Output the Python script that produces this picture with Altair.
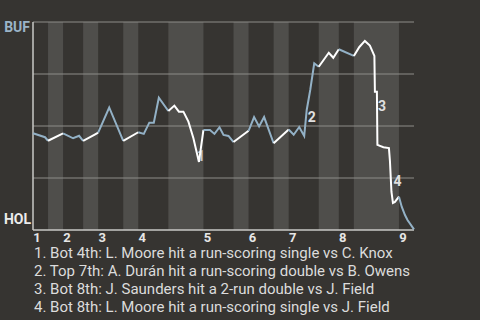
import altair as alt
import pandas as pd

# ---- data ----
half_starts = [0, 3, 6, 10, 13, 18, 21, 27, 34, 40, 43, 48, 51, 57, 61, 64, 73]
game_end = 76
inning_labels = ["1", "2", "3", "4", "5", "6", "7", "8", "9"]
inning_starts = [0, 6, 13, 21, 34, 43, 51, 61, 73]

event_x = [0, 2.4, 3, 6, 8, 9.2, 10, 12.4, 13, 15.2,
           18, 21, 22.1, 23.2, 24.1, 25.1, 27, 28.2, 29.1, 30,
           31, 32, 33.1, 34, 35.3, 36.2, 37.2, 38, 39, 40,
           43, 44.1, 45.1, 46.1, 48, 51, 52, 53.1, 54.1, 54.6,
           55.3, 56.1, 57, 59, 59.9, 61, 64, 65.1, 66.2, 67.2,
           68.1, 68.2, 68.6, 68.7, 69.9, 71, 71.2, 71.5, 71.8, 72.2,
           73, 73.55, 74.2, 74.7, 76]
win_prob = [0.465, 0.446, 0.429, 0.465, 0.441, 0.453, 0.429, 0.460, 0.468, 0.589,
            0.428, 0.470, 0.462, 0.516, 0.516, 0.636, 0.572, 0.598, 0.569, 0.569,
            0.521, 0.441, 0.327, 0.481, 0.481, 0.462, 0.494, 0.457, 0.452, 0.423,
            0.477, 0.543, 0.498, 0.543, 0.417, 0.483, 0.458, 0.495, 0.452, 0.577,
            0.673, 0.801, 0.785, 0.852, 0.828, 0.869, 0.837, 0.880, 0.909, 0.887,
            0.837, 0.665, 0.665, 0.409, 0.398, 0.394, 0.332, 0.184, 0.130, 0.135,
            0.160, 0.112, 0.072, 0.048, 0.003]

grid_values = [0.25, 0.5, 0.75, 1.0]

ann_labels = ["1", "2", "3", "4"]
ann_x = [33.5, 55.6, 69.6, 72.7]
ann_p = [0.352, 0.537, 0.593, 0.232]

notes = [
    "1. Bot 4th: L. Moore hit a run-scoring single vs C. Knox",
    "2. Top 7th: A. Durán hit a run-scoring double vs B. Owens",
    "3. Bot 8th: J. Saunders hit a 2-run double vs J. Field",
    "4. Bot 8th: L. Moore hit a run-scoring single vs J. Field",
]

# ---- tables ----
half_ends = half_starts[1:] + [game_end]
halves = pd.DataFrame({
    "start": half_starts,
    "end": half_ends,
    "half": ["top" if i % 2 == 0 else "bot" for i in range(len(half_starts))],
})

rows = []
for i, (s, e) in enumerate(zip(half_starts, half_ends)):
    for x, p in zip(event_x, win_prob):
        if s <= x <= e:
            rows.append({"x": x, "p": p, "seg": i, "side": "top" if i % 2 == 0 else "bot"})
line_df = pd.DataFrame(rows)

W, H = 381, 208
FONT = "Roboto"

xs = alt.Scale(domain=[0, game_end], nice=False, zero=False)
ys = alt.Scale(domain=[0, 1], nice=False, zero=False)
ns = alt.Scale(domain=[0, 3], range=[H + 23, H + 77], nice=False, zero=False)

stripes = alt.Chart(halves[halves["half"] == "bot"]).mark_rect(color="#4f4e4b").encode(
    x=alt.X("start:Q", scale=xs, axis=None),
    x2="end:Q",
)

grid = alt.Chart(pd.DataFrame({"v": grid_values})).mark_rule(
    color="#8d8c89", strokeWidth=1
).encode(y=alt.Y("v:Q", scale=ys, axis=None))

left_axis = alt.Chart(pd.DataFrame({"v": [0]})).mark_rule(
    color="#c8c8c6", strokeWidth=1.5
).encode(x=alt.X("v:Q", scale=xs, axis=None))

bottom_axis = alt.Chart(pd.DataFrame({"v": [0]})).mark_rule(
    color="#c8c8c6", strokeWidth=1.5
).encode(y=alt.Y("v:Q", scale=ys, axis=None))

ann1 = alt.Chart(pd.DataFrame({"x": ann_x[:1], "p": ann_p[:1], "t": ann_labels[:1]})).mark_text(
    font=FONT, fontSize=14, fontWeight="bold", color="#c8c8c6", align="center", baseline="middle"
).encode(x=alt.X("x:Q", scale=xs, axis=None), y=alt.Y("p:Q", scale=ys, axis=None), text="t:N")

line = alt.Chart(line_df).mark_line(strokeWidth=2, strokeJoin="miter").encode(
    x=alt.X("x:Q", scale=xs, axis=None),
    y=alt.Y("p:Q", scale=ys, axis=None),
    detail="seg:N",
    order="x:Q",
    color=alt.Color("side:N", scale=alt.Scale(domain=["top", "bot"], range=["#93b1c6", "#ffffff"]), legend=None),
)

ann = alt.Chart(pd.DataFrame({"x": ann_x[1:], "p": ann_p[1:], "t": ann_labels[1:]})).mark_text(
    font=FONT, fontSize=14, fontWeight="bold", color="#e0e0e0", align="center", baseline="middle"
).encode(x=alt.X("x:Q", scale=xs, axis=None), y=alt.Y("p:Q", scale=ys, axis=None), text="t:N")

innings = alt.Chart(pd.DataFrame({"x": inning_starts, "t": inning_labels})).mark_text(
    font=FONT, fontSize=13, fontWeight="bold", color="#e6e6e6", align="center", baseline="middle", dx=4
).encode(x=alt.X("x:Q", scale=xs, axis=None), y=alt.value(H + 8), text="t:N")

buf = alt.Chart(pd.DataFrame({"t": ["BUF"]})).mark_text(
    font=FONT, fontSize=14, fontWeight="bold", color="#9ab4c8", align="right", baseline="middle"
).encode(x=alt.value(-3), y=alt.value(6), text="t:N")

hol = alt.Chart(pd.DataFrame({"t": ["HOL"]})).mark_text(
    font=FONT, fontSize=14, fontWeight="bold", color="#ececec", align="right", baseline="middle"
).encode(x=alt.value(-2), y=alt.value(198), text="t:N")

notes_df = pd.DataFrame({"t": notes, "i": list(range(len(notes)))})
note_text = alt.Chart(notes_df).mark_text(
    font=FONT, fontSize=15, color="#dcdcdc", align="left", baseline="middle"
).encode(
    x=alt.value(1),
    y=alt.Y("i:Q", scale=ns, axis=None),
    text="t:N",
)

chart = alt.layer(
    stripes, grid, left_axis, bottom_axis, ann1, line, ann, innings, buf, hol, note_text
).resolve_scale(y="independent").properties(
    width=W, height=H,
    autosize=alt.AutoSizeParams(type="none"),
    padding={"left": 33, "top": 22, "right": 480 - 33 - W, "bottom": 320 - 22 - H},
    background="#363431",
).configure_view(stroke=None)

chart.save("out.html", embed_options={"renderer": "svg", "actions": False})
